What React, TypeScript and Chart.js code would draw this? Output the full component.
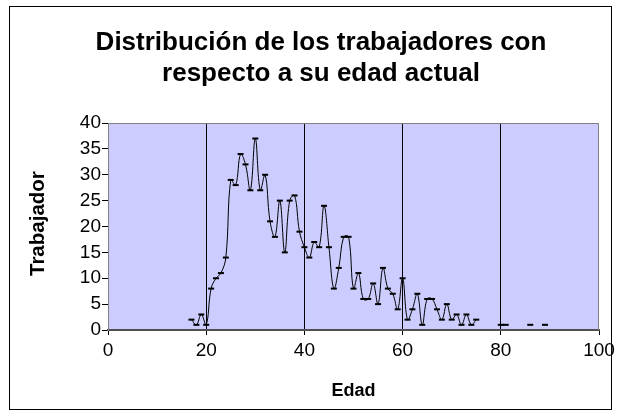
import React, { useEffect, useRef } from "react";
import { Chart, registerables } from "chart.js";

Chart.register(...registerables);

// ---- data ----
const ages = [
  17, 18, 19, 20, 21, 22, 23, 24, 25, 26, 27, 28, 29, 30, 31, 32, 33, 34, 35, 36,
  37, 38, 39, 40, 41, 42, 43, 44, 45, 46, 47, 48, 49, 50, 51, 52, 53, 54, 55, 56,
  57, 58, 59, 60, 61, 62, 63, 64, 65, 66, 67, 68, 69, 70, 71, 72, 73, 74, 75,
  80, 81, 86, 89,
];
const workers = [
  2, 1, 3, 1, 8, 10, 11, 14, 29, 28, 34, 32, 27, 37, 27, 30, 21, 18, 25, 15,
  25, 26, 19, 16, 14, 17, 16, 24, 16, 8, 12, 18, 18, 8, 11, 6, 6, 9, 5, 12,
  8, 7, 4, 10, 2, 4, 7, 1, 6, 6, 4, 2, 5, 2, 3, 1, 3, 1, 2,
  1, 1, 1, 1,
];
const xTickValues = [0, 20, 40, 60, 80, 100];
const yTickValues = [0, 5, 10, 15, 20, 25, 30, 35, 40];
const chartTitle = ["Distribución de los trabajadores con", "respecto a su edad actual"];
const xTitle = "Edad";
const yTitle = "Trabajadores";

const FONT = '"Liberation Sans", Arial, sans-serif';

function buildPoints() {
  const pts: { x: number; y: number | null }[] = [];
  for (let i = 0; i < ages.length; i++) {
    if (i > 0 && ages[i] - ages[i - 1] > 1) {
      pts.push({ x: (ages[i] + ages[i - 1]) / 2, y: null });
    }
    pts.push({ x: ages[i], y: workers[i] });
  }
  return pts;
}

const framePlugin = {
  id: "excelFrame",
  beforeDraw(chart: any) {
    const { ctx, chartArea } = chart;
    const { left, top, right, bottom } = chartArea;
    ctx.save();
    ctx.fillStyle = "#ffffff";
    ctx.fillRect(0, 0, chart.width, chart.height);
    ctx.strokeStyle = "#000000";
    ctx.lineWidth = 1;
    ctx.strokeRect(9.5, 6.5, 602, 403);
    ctx.fillStyle = "#CCCCFF";
    ctx.fillRect(left, top, right - left, bottom - top);
    ctx.restore();
  },
  beforeDatasetsDraw(chart: any) {
    const { ctx, chartArea } = chart;
    const { left, top, right, bottom } = chartArea;
    ctx.save();
    ctx.strokeStyle = "#808080";
    ctx.lineWidth = 1;
    ctx.beginPath();
    ctx.moveTo(left, top + 0.5);
    ctx.lineTo(right - 0.5, top + 0.5);
    ctx.lineTo(right - 0.5, bottom);
    ctx.stroke();
    ctx.restore();
  },
  afterDraw(chart: any) {
    const { ctx } = chart;
    // chart title
    ctx.save();
    ctx.font = `bold 26px ${FONT}`;
    ctx.fillStyle = "#000";
    ctx.textAlign = "center";
    ctx.textBaseline = "middle";
    chartTitle.forEach((line, i) => ctx.fillText(line, 321, 43 + i * 31));
    ctx.restore();
    // y-axis title (clipped as in the original)
    ctx.save();
    ctx.beginPath();
    ctx.rect(15, 171, 45, 140);
    ctx.clip();
    ctx.translate(44, 276);
    ctx.rotate(-Math.PI / 2);
    ctx.font = `bold 20.5px ${FONT}`;
    ctx.fillStyle = "#000";
    ctx.textAlign = "left";
    ctx.textBaseline = "alphabetic";
    ctx.fillText(yTitle, 0, 0);
    ctx.restore();
  },
};

export default function App() {
  const canvasRef = useRef<HTMLCanvasElement | null>(null);

  useEffect(() => {
    if (!canvasRef.current) return;
    const chart = new Chart(canvasRef.current, {
      type: "line",
      data: {
        datasets: [
          {
            data: buildPoints() as any,
            borderColor: "#000000",
            borderWidth: 1,
            tension: 0.4,
            spanGaps: false,
            fill: false,
            pointStyle: "line",
            pointRadius: 3,
            pointHoverRadius: 3,
            pointBorderWidth: 2,
            pointBorderColor: "#000000",
            pointBackgroundColor: "#000000",
          },
        ],
      },
      options: {
        animation: false,
        responsive: false,
        devicePixelRatio: 1,
        layout: { padding: { left: 0, right: 22, top: 123, bottom: 0 } },
        plugins: {
          legend: { display: false },
          tooltip: { enabled: false },
          title: { display: false },
        },
        scales: {
          x: {
            type: "linear",
            min: 0,
            max: 100,
            afterBuildTicks: (scale: any) => {
              scale.ticks = xTickValues.map((v) => ({ value: v }));
            },
            afterFit: (scale: any) => {
              scale.height = 87;
            },
            ticks: {
              color: "#000",
              font: { family: FONT, size: 19 },
              padding: 4,
              maxRotation: 0,
            },
            grid: {
              color: (c: any) =>
                c.tick && (c.tick.value === 0 || c.tick.value === 100) ? "rgba(0,0,0,0)" : "#000000",
              lineWidth: 1,
              tickLength: 5,
              tickColor: "#000000",
              drawTicks: true,
            },
            border: { display: true, color: "#505050", width: 2 },
            title: {
              display: true,
              text: xTitle,
              color: "#000",
              font: { family: FONT, size: 18, weight: "bold" },
              padding: { top: 0, bottom: 15 },
            },
          },
          y: {
            type: "linear",
            min: 0,
            max: 40,
            afterBuildTicks: (scale: any) => {
              scale.ticks = yTickValues.map((v) => ({ value: v }));
            },
            afterFit: (scale: any) => {
              scale.width = 108;
            },
            ticks: {
              color: "#000",
              font: { family: FONT, size: 19 },
              padding: 1,
            },
            grid: {
              drawOnChartArea: false,
              drawTicks: true,
              tickLength: 6,
              tickColor: "#000000",
            },
            border: { display: true, color: "#808080", width: 1 },
          },
        },
      },
      plugins: [framePlugin],
    } as any);
    return () => chart.destroy();
  }, []);

  return (
    <div style={{ position: "fixed", left: 0, top: 0, width: 621, height: 417 }}>
      <canvas ref={canvasRef} width={621} height={417} style={{ width: 621, height: 417 }} />
    </div>
  );
}
